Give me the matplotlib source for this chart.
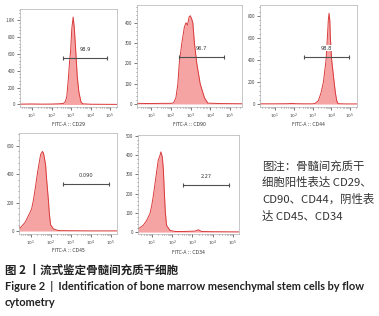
import numpy as np
import matplotlib
matplotlib.use("Agg")
import matplotlib.pyplot as plt
from matplotlib.ticker import FixedLocator, NullFormatter, LogLocator

plt.rcParams['font.family'] = ['Noto Sans CJK SC', 'DejaVu Sans']

W, H = 379, 316

# ---------------- data (log10 fluorescence, counts) ----------------
cd29_logx = [0.38, 1.0, 1.5, 2.0, 2.4, 2.6, 2.7, 2.78, 2.86, 2.93, 2.98, 3.04, 3.11, 3.17, 3.25, 3.32, 3.4, 3.51, 3.6, 4.0, 4.5, 5.36]
cd29_cnt = [4, 6, 4, 5, 8, 12, 30, 90, 300, 520, 640, 900, 1035, 900, 600, 330, 150, 30, 8, 3, 2, 1]

cd90_logx = [0.28, 1.0, 1.5, 2.0, 2.13, 2.25, 2.35, 2.42, 2.55, 2.68, 2.76, 2.84, 2.92, 2.98, 3.05, 3.11, 3.19, 3.31, 3.48, 3.7, 3.87, 4.5, 5.6]
cd90_cnt = [3, 2, 3, 3, 5, 30, 100, 200, 300, 380, 401, 390, 430, 436, 420, 400, 300, 200, 100, 30, 4, 2, 1]

cd44_logx = [0.2, 1.0, 1.7, 1.9, 2.1, 2.5, 3.0, 3.13, 3.31, 3.45, 3.58, 3.72, 3.79, 3.84, 3.88, 3.92, 3.95, 4.02, 4.15, 4.22, 4.29, 4.36, 4.8, 5.37]
cd44_cnt = [2, 2, 3, 6, 3, 2, 2, 5, 30, 100, 200, 400, 600, 760, 825, 760, 600, 400, 200, 100, 30, 3, 1, 1]

cd45_logx = [0.42, 0.45, 0.7, 0.95, 1.03, 1.12, 1.23, 1.33, 1.42, 1.48, 1.57, 1.62, 1.67, 1.73, 1.78, 1.87, 1.92, 1.98, 2.12, 2.37, 3.0, 4.0, 5.3]
cd45_cnt = [30, 20, 60, 130, 155, 217, 316, 415, 489, 538, 560, 550, 514, 464, 365, 217, 118, 44, 15, 3, 2, 1, 1]

cd34_logx = [0.32, 0.57, 0.74, 0.90, 0.99, 1.07, 1.15, 1.23, 1.31, 1.40, 1.44, 1.51, 1.56, 1.61, 1.66, 1.72, 1.89, 2.14, 2.6, 3.12, 3.29, 3.45, 4.0, 5.3]
cd34_cnt = [17, 35, 61, 96, 139, 191, 252, 313, 374, 400, 417, 391, 330, 209, 104, 35, 9, 3, 3, 5, 12, 3, 2, 1]

markers = ["CD29", "CD90", "CD44", "CD45", "CD34"]
gate_pct = ["98.9", "96.7", "98.8", "0.090", "2.27"]
gate_lo = [2.6, 2.42, 2.57, 2.6, 2.55]
gate_hi = [4.85, 4.7, 4.95, 4.9, 4.82]
gate_y = [553, 233, 430, 330, 247]

ytick_vals = [[0, 200, 400, 600, 800, 1000], [0, 100, 200, 300, 400],
              [0, 200, 400, 600, 800], [0, 200, 400, 600], [0, 100, 200, 300, 400, 500]]
ytick_labels = [["0", "200", "400", "600", "800", "1.0K"], ["0", "100", "200", "300", "400"],
                ["0", "200", "400", "600", "800"], ["0", "200", "400", "600"],
                ["0", "100", "200", "300", "400", "500"]]

# ---------------- layout (pixel boxes) ----------------
boxes = [(20, 9, 117, 107), (137, 5, 242, 107), (260, 5, 357, 107),
         (19, 133, 117, 234), (138, 135, 239, 234)]
xlims = [(0.38, 5.36), (0.28, 5.6), (0.2, 5.37), (0.4, 5.3), (0.31, 5.3)]
ylims = [(-30, 1130), (-15, 489), (-27, 900), (-21, 690), (-10, 505)]
xlabel_y = [125, 125, 125, 251, 252]

data = [(cd29_logx, cd29_cnt), (cd90_logx, cd90_cnt), (cd44_logx, cd44_cnt),
        (cd45_logx, cd45_cnt), (cd34_logx, cd34_cnt)]

fig = plt.figure(figsize=(W / 100, H / 100), dpi=100)

fill_c = "#f6a3a3"
edge_c = "#d93a3a"
frame_c = "#b0b0b0"

for i in range(5):
    l, t, r, b = boxes[i]
    ax = fig.add_axes([l / W, 1 - b / H, (r - l) / W, (b - t) / H])
    lx, cn = data[i]
    xs = 10 ** np.array(lx)
    ax.fill_between(xs, 0, cn, color=fill_c, lw=0)
    ax.plot(xs, cn, color=edge_c, lw=0.7)
    ax.set_xscale("log")
    ax.set_xlim(10 ** xlims[i][0], 10 ** xlims[i][1])
    ax.set_ylim(*ylims[i])
    ax.xaxis.set_major_locator(FixedLocator([10, 100, 1000, 1e4, 1e5]))
    ax.set_xticklabels([r"$10^1$", r"$10^2$", r"$10^3$", r"$10^4$", r"$10^5$"])
    ax.xaxis.set_minor_locator(LogLocator(base=10, subs=np.arange(2, 10)))
    ax.xaxis.set_minor_formatter(NullFormatter())
    ax.set_yticks(ytick_vals[i])
    ax.set_yticklabels(ytick_labels[i])
    step = ytick_vals[i][1] - ytick_vals[i][0]
    ax.set_yticks(np.arange(0, ylims[i][1], step / 5), minor=True)
    ax.tick_params(axis="both", which="major", labelsize=3.2, length=2, width=0.5,
                   pad=1.5, colors="#444444")
    ax.tick_params(axis="both", which="minor", length=1, width=0.4, colors="#444444")
    for s in ax.spines.values():
        s.set_color(frame_c)
        s.set_linewidth(0.5)
    # gate
    ax.plot([10 ** gate_lo[i], 10 ** gate_hi[i]], [gate_y[i], gate_y[i]],
            color="#505050", lw=0.8, marker="|", ms=3.5, mew=0.8)
    cx = 10 ** ((gate_lo[i] + gate_hi[i]) / 2)
    ax.text(cx, gate_y[i] + (ylims[i][1] - ylims[i][0]) * 0.06, gate_pct[i],
            ha="center", va="bottom", fontsize=3.6, color="#333333", family="DejaVu Sans",
            bbox=dict(facecolor="white", edgecolor="none", pad=0.3) if i == 2 else None)
    fig.text(((l + r) / 2) / W, 1 - xlabel_y[i] / H, "FITC-A :: " + markers[i],
             ha="center", va="center", fontsize=3.3, color="#333333", family="DejaVu Sans")

# right side note
note_lines = ["图注：骨髓间充质干", "细胞阳性表达 CD29、", "CD90、CD44，阴性表", "达 CD45、CD34"]
for k, line in enumerate(note_lines):
    fig.text(262 / W, 1 - (166 + k * 16.8) / H, line, ha="left", va="center",
             fontsize=8.2, color="#333333")

fig.text(5 / W, 1 - 270 / H, "图 2 丨流式鉴定骨髓间充质干细胞", ha="left", va="center",
         fontsize=8.3, color="#222222", fontweight="bold")
fig.text(5 / W, 1 - 287 / H,
         "Figure 2  |  Identification of bone marrow mesenchymal stem cells by flow",
         ha="left", va="center", fontsize=7.9, color="#222222", fontweight="bold",
         family=["Lato", "DejaVu Sans"])
fig.text(5 / W, 1 - 303 / H, "cytometry", ha="left", va="center",
         fontsize=7.9, color="#222222", fontweight="bold", family=["Lato", "DejaVu Sans"])

fig.savefig("out.png", dpi=100)
